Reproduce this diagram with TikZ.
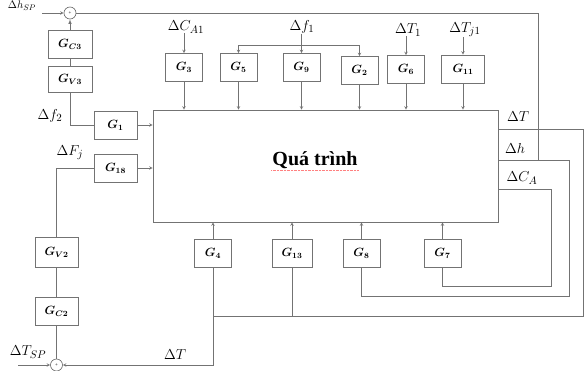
\documentclass[tikz,border=0pt]{standalone}
\usepackage{fontspec}
\setmainfont{Liberation Serif}
\usetikzlibrary{positioning}
\tikzset{
  blk/.style={draw=black!55, line width=0.6pt, minimum width=37pt, minimum height=28pt,
    inner sep=1pt, font=\fontsize{11.5}{13}\selectfont\boldmath},
  sig/.style={draw=black!55, line width=0.6pt},
  lbl/.style={font=\fontsize{15}{17}\selectfont, inner sep=0pt},
  sumpt/.style={draw=black!60, circle, minimum size=12pt, inner sep=0pt, line width=0.6pt,
    font=\tiny},
}
\begin{document}
\begin{tikzpicture}[x=1pt, y=-1pt, >=stealth]
  \useasboundingbox (0,0) rectangle (585,370);
  % quá trình
  \node[draw=black!55, line width=0.6pt, minimum width=345pt, minimum height=112pt] (qt) at (325.5,166) {};
  \node[font=\fontsize{20}{22}\selectfont\bfseries, inner sep=1pt] (ten) at (315,160) {Quá trình};
  \draw[red!50, densely dotted] (ten.south west) -- (ten.south east);
  % khâu phía trên
  \node[blk] (g3) at (184,67.5) {$G_{3}$};
  \node[blk] (g5) at (238.5,67.5) {$G_{5}$};
  \node[blk] (g9) at (301.5,67.5) {$G_{9}$};
  \node[blk] (g2) at (359.5,70.5) {$G_{2}$};
  \node[blk] (g6) at (406,69.5) {$G_{6}$};
  \node[blk, minimum width=43pt] (g11) at (463,69) {$G_{11}$};
  \foreach \b in {g3,g5,g9,g2,g6,g11}
    \draw[sig,->] (\b.south) -- (\b.south |- qt.north);
  % nhiễu vào
  \node[lbl] (ca1) at (186,27) {$\Delta C_{A1}$};
  \node[lbl] (df1) at (302,27) {$\Delta f_{1}$};
  \node[lbl] (dt1) at (408,30) {$\Delta T_{1}$};
  \node[lbl] (dtj1) at (465,30) {$\Delta T_{j1}$};
  \draw[sig,->] (ca1.south -| g3.north) -- (g3.north);
  \draw[sig,->] (dt1.south -| g6.north) -- (g6.north);
  \draw[sig,->] (dtj1.south -| g11.north) -- (g11.north);
  \coordinate (br) at (301.5,45);
  \draw[sig] (df1.south -| br) -- (br);
  \draw[sig,->] (br) -- (g9.north);
  \draw[sig,->] (br) -| (g5.north);
  \draw[sig,->] (br) -| (g2.north);
  % khâu phía dưới
  \node[blk] (g4) at (213,253.5) {$G_{4}$};
  \node[blk, minimum width=40pt] (g13) at (292,253.5) {$G_{13}$};
  \node[blk] (g8) at (361.5,253.5) {$G_{8}$};
  \node[blk] (g7) at (442.5,253.5) {$G_{7}$};
  \foreach \b in {g4,g13,g8,g7}
    \draw[sig,->] (\b.north) -- (\b.north |- qt.south);
  % đầu ra
  \coordinate (oT) at (498,129);
  \coordinate (oh) at (498,160);
  \coordinate (oc) at (498,189);
  \node[lbl] (lT) at (518,117) {$\Delta T$};
  \node[lbl] (lh) at (515,148) {$\Delta h$};
  \node[lbl] (lc) at (522,178) {$\Delta C_{A}$};
  \coordinate (rT) at (583,316);
  \coordinate (rh) at (569,296);
  \coordinate (rc) at (551,286);
  \coordinate (jh) at (538,160);
  \draw[sig] (oT) -| (rT) -- (rT -| g4.south);
  \draw[sig] (g13.south) -- (g13.south |- rT);
  \draw[sig] (oh) -| (rh) -| (g8.south);
  \draw[sig] (oc) -| (rc) -| (g7.south);
  % vòng mức
  \node[sumpt] (s1) at (70,13) {+};
  \node[blk, minimum width=44pt] (gc3) at (70,44) {$G_{C3}$};
  \node[blk, minimum width=44pt, minimum height=26pt] (gv3) at (70,79) {$G_{V3}$};
  \node[lbl, font=\fontsize{11}{12}\selectfont] (hsp) at (22,6) {$\Delta h_{SP}$};
  \coordinate (in1) at (42,13);
  \draw[sig,->] (in1) -- (s1.west);
  \draw[sig] (jh) |- (s1.east);
  \draw[sig,<-,>=latex] (s1.south) -- (gc3.north);
  \draw[sig] (gc3) -- (gv3);
  \node[blk, minimum width=43pt] (g1) at (115.5,125) {$G_{1}$};
  \node[lbl] (df2) at (50,116) {$\Delta f_{2}$};
  \draw[sig] (gv3.south) |- (g1.west);
  \draw[sig,->] (g1.east) -- (g1.east -| qt.west);
  % vòng nhiệt độ
  \node[blk, minimum width=43pt] (g18) at (115.5,168) {$G_{18}$};
  \node[lbl] (dFj) at (70,153) {$\Delta F_{j}$};
  \draw[sig,->] (g18.east) -- (g18.east -| qt.west);
  \node[blk, minimum width=43pt, minimum height=30pt] (gv2) at (56.5,252) {$G_{V2}$};
  \node[blk, minimum width=43pt] (gc2) at (56.5,311.5) {$G_{C2}$};
  \draw[sig] (gv2.north) |- (g18.west);
  \draw[sig] (gv2) -- (gc2);
  \node[sumpt] (s2) at (56.5,365) {+};
  \draw[sig] (s2) -- (gc2);
  \draw[sig,->] (g4.south) |- (s2.east);
  \node[lbl] (lT2) at (175,355) {$\Delta T$};
  \node[lbl] (tsp) at (28,352) {$\Delta T_{SP}$};
  \coordinate (in2) at (18,365);
  \draw[sig,->] (in2) -- (s2.west);
\end{tikzpicture}
\end{document}
